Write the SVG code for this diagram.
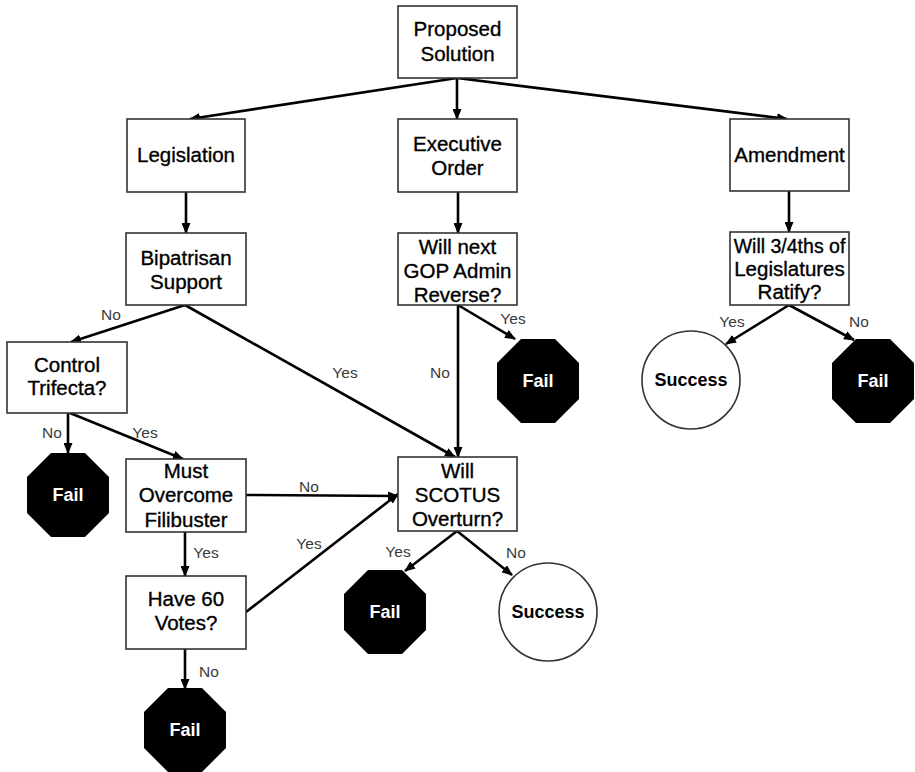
<svg xmlns="http://www.w3.org/2000/svg" width="915" height="772" viewBox="0 0 915 772">
<defs>
<style>
.box{fill:#fff;stroke:#333;stroke-width:1.6}
.t{font-family:"Liberation Sans",Arial,sans-serif;font-size:20.5px;fill:#000;stroke:#000;stroke-width:0.35;text-anchor:middle}
.fail{fill:#000}
.ft{font-family:"Liberation Sans",Arial,sans-serif;font-size:18px;font-weight:bold;fill:#fff;text-anchor:middle}
.succ{fill:#fff;stroke:#333;stroke-width:1.6}
.st{font-family:"Liberation Sans",Arial,sans-serif;font-size:18px;font-weight:bold;fill:#000;text-anchor:middle}
.e{stroke:#000;stroke-width:2.6;fill:none;marker-end:url(#ah)}
.lb{font-family:"Liberation Sans",Arial,sans-serif;font-size:15.5px;fill:#3a3a3a;text-anchor:middle}
</style>
<marker id="ah" markerUnits="userSpaceOnUse" markerWidth="11" markerHeight="9" refX="10" refY="4.5" orient="auto">
<path d="M0,0 L11,4.5 L0,9 z" fill="#000"/>
</marker>
<polygon id="oct" points="-17,-42 17,-42 41,-18 41,18 17,42 -17,42 -41,18 -41,-18"/>
</defs>
<rect width="915" height="772" fill="#fff"/>

<g id="connectors">
<line class="e" x1="457" y1="78" x2="190" y2="119"/>
<line class="e" x1="457" y1="78" x2="457" y2="119"/>
<line class="e" x1="457" y1="78" x2="787" y2="119"/>
<line class="e" x1="186" y1="192" x2="186" y2="233"/>
<line class="e" x1="458" y1="192" x2="458" y2="233"/>
<line class="e" x1="789" y1="191" x2="789" y2="232"/>
<line class="e" x1="185" y1="305" x2="71" y2="342"/>
<line class="e" x1="185" y1="305" x2="455" y2="457"/>
<line class="e" x1="458" y1="305" x2="458" y2="457"/>
<line class="e" x1="458" y1="305" x2="515" y2="339"/>
<line class="e" x1="68" y1="413" x2="68" y2="453"/>
<line class="e" x1="70" y1="413" x2="183" y2="459"/>
<line class="e" x1="246" y1="495" x2="398" y2="496"/>
<line class="e" x1="185" y1="532" x2="185" y2="576"/>
<line class="e" x1="246" y1="612" x2="398" y2="494"/>
<line class="e" x1="185" y1="649" x2="185" y2="689"/>
<line class="e" x1="457" y1="531" x2="405" y2="571"/>
<line class="e" x1="457" y1="531" x2="512" y2="575"/>
<line class="e" x1="789" y1="305" x2="726" y2="344"/>
<line class="e" x1="789" y1="305" x2="854" y2="340"/>
</g>

<g id="edge-labels">
<text class="lb" x="111" y="320">No</text>
<text class="lb" x="345" y="378">Yes</text>
<text class="lb" x="440" y="378">No</text>
<text class="lb" x="52" y="438">No</text>
<text class="lb" x="145" y="438">Yes</text>
<text class="lb" x="309" y="492">No</text>
<text class="lb" x="206" y="558">Yes</text>
<text class="lb" x="309" y="549">Yes</text>
<text class="lb" x="209" y="677">No</text>
<text class="lb" x="398" y="557">Yes</text>
<text class="lb" x="516" y="558">No</text>
<text class="lb" x="513" y="324">Yes</text>
<text class="lb" x="732" y="327">Yes</text>
<text class="lb" x="859" y="327">No</text>
</g>

<g id="proposed">
<rect class="box" x="398" y="6" width="119" height="72"/>
<text class="t" x="457.5" y="36">Proposed</text>
<text class="t" x="457.5" y="61">Solution</text>
</g>
<g id="legislation">
<rect class="box" x="127" y="119" width="118" height="73"/>
<text class="t" x="186" y="162">Legislation</text>
</g>
<g id="executive">
<rect class="box" x="398" y="119" width="119" height="73"/>
<text class="t" x="457.5" y="151">Executive</text>
<text class="t" x="457.5" y="175">Order</text>
</g>
<g id="amendment">
<rect class="box" x="730" y="119" width="119" height="72"/>
<text class="t" x="789.5" y="162">Amendment</text>
</g>
<g id="bipartisan">
<rect class="box" x="126" y="233" width="120" height="72"/>
<text class="t" x="186" y="265">Bipatrisan</text>
<text class="t" x="186" y="289">Support</text>
</g>
<g id="gop">
<rect class="box" x="398" y="233" width="119" height="72"/>
<text class="t" x="457.5" y="254">Will next</text>
<text class="t" x="457.5" y="278">GOP Admin</text>
<text class="t" x="457.5" y="302">Reverse?</text>
</g>
<g id="ratify">
<rect class="box" x="730" y="232" width="119" height="73"/>
<text class="t" x="789.5" y="253" style="font-size:19.5px">Will 3/4ths of</text>
<text class="t" x="789.5" y="276">Legislatures</text>
<text class="t" x="789.5" y="299">Ratify?</text>
</g>
<g id="trifecta">
<rect class="box" x="7" y="342" width="120" height="71"/>
<text class="t" x="67" y="372">Control</text>
<text class="t" x="67" y="395">Trifecta?</text>
</g>
<g id="filibuster">
<rect class="box" x="126" y="459" width="120" height="73"/>
<text class="t" x="186" y="478">Must</text>
<text class="t" x="186" y="502">Overcome</text>
<text class="t" x="186" y="527">Filibuster</text>
</g>
<g id="votes">
<rect class="box" x="126" y="576" width="120" height="73"/>
<text class="t" x="186" y="606">Have 60</text>
<text class="t" x="186" y="630">Votes?</text>
</g>
<g id="scotus">
<rect class="box" x="398" y="457" width="119" height="74"/>
<text class="t" x="457.5" y="478">Will</text>
<text class="t" x="457.5" y="502">SCOTUS</text>
<text class="t" x="457.5" y="526">Overturn?</text>
</g>

<g id="fail-trifecta">
<use href="#oct" class="fail" x="68" y="495"/>
<text class="ft" x="68" y="501">Fail</text>
</g>
<g id="fail-votes">
<use href="#oct" class="fail" x="185" y="730"/>
<text class="ft" x="185" y="736">Fail</text>
</g>
<g id="fail-scotus">
<use href="#oct" class="fail" x="385" y="612"/>
<text class="ft" x="385" y="618">Fail</text>
</g>
<g id="fail-gop">
<use href="#oct" class="fail" x="538" y="381"/>
<text class="ft" x="538" y="387">Fail</text>
</g>
<g id="fail-ratify">
<use href="#oct" class="fail" x="873" y="381"/>
<text class="ft" x="873" y="387">Fail</text>
</g>
<g id="success-scotus">
<circle class="succ" cx="548" cy="612" r="49"/>
<text class="st" x="548" y="618">Success</text>
</g>
<g id="success-ratify">
<circle class="succ" cx="691" cy="380" r="49"/>
<text class="st" x="691" y="386">Success</text>
</g>
</svg>
